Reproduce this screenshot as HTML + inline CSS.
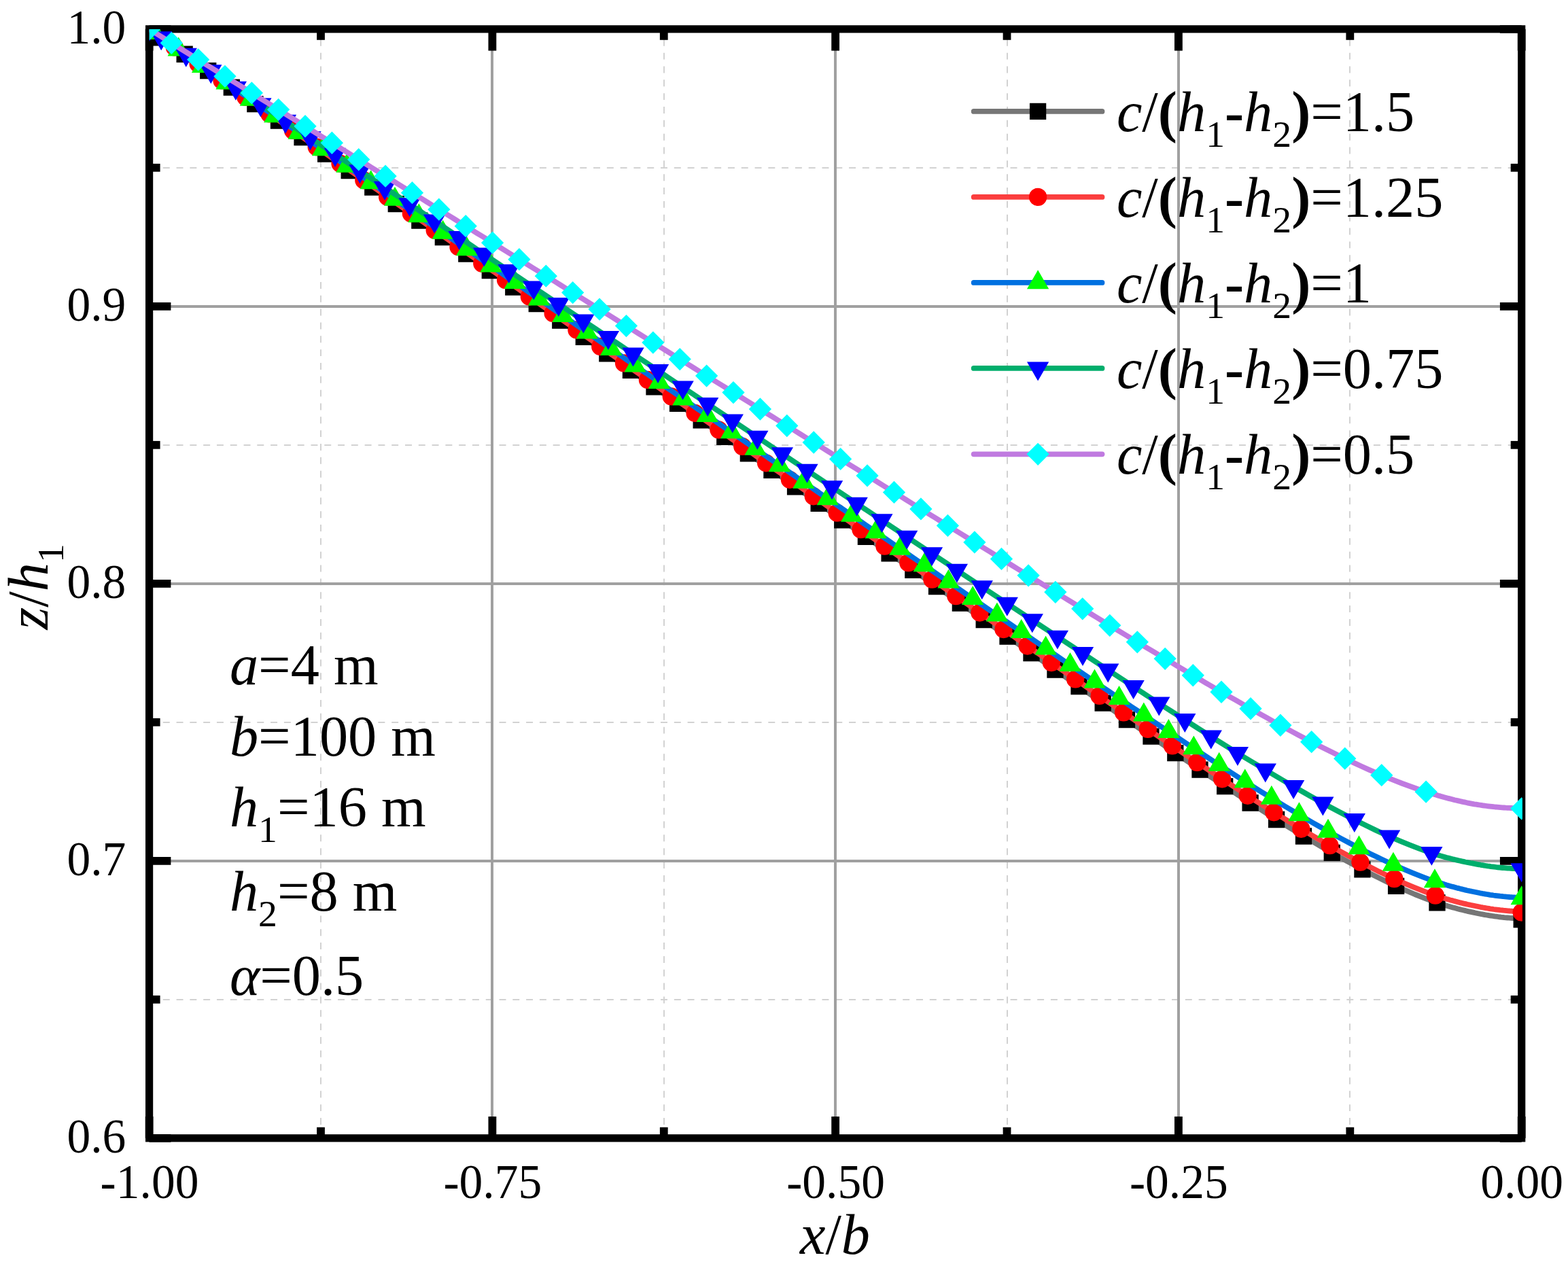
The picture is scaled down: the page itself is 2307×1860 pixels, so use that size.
<!DOCTYPE html>
<html><head><meta charset="utf-8"><title>z/h1 versus x/b</title>
<style>html,body{margin:0;padding:0;background:#fff;}body{width:2307px;height:1860px;overflow:hidden;}svg{display:block;}text{font-family:"Liberation Serif","Times New Roman",serif;fill:#000;}</style>
</head><body>
<svg width="2307" height="1860" viewBox="0 0 2307 1860">
<rect x="0" y="0" width="2307" height="1860" fill="#ffffff"/>
<g stroke="#d2d2d2" stroke-width="2" stroke-dasharray="9.95 9.89" fill="none"><line x1="472.0" y1="1674.80" x2="472.0" y2="42.80"/><line x1="977.0" y1="1674.80" x2="977.0" y2="42.80"/><line x1="1482.0" y1="1674.80" x2="1482.0" y2="42.80"/><line x1="1986.0" y1="1674.80" x2="1986.0" y2="42.80"/></g>
<g stroke="#d2d2d2" stroke-width="2" stroke-dasharray="9.95 9.84" stroke-dashoffset="-0.4" fill="none"><line x1="219.60" y1="1471.0" x2="2238.70" y2="1471.0"/><line x1="219.60" y1="1063.0" x2="2238.70" y2="1063.0"/><line x1="219.60" y1="655.0" x2="2238.70" y2="655.0"/><line x1="219.60" y1="247.0" x2="2238.70" y2="247.0"/></g>
<g stroke="#a0a0a0" stroke-width="4" fill="none"><line x1="724.0" y1="1674.80" x2="724.0" y2="42.80"/><line x1="1229.0" y1="1674.80" x2="1229.0" y2="42.80"/><line x1="1734.0" y1="1674.80" x2="1734.0" y2="42.80"/><line x1="219.60" y1="1267.0" x2="2238.70" y2="1267.0"/><line x1="219.60" y1="859.0" x2="2238.70" y2="859.0"/><line x1="219.60" y1="451.0" x2="2238.70" y2="451.0"/></g>
<rect x="219.60" y="42.80" width="2019.10" height="1632.00" fill="none" stroke="#000" stroke-width="11.20"/>
<g stroke="#000" stroke-width="11.80" fill="none"><line x1="219.60" y1="1674.80" x2="219.60" y2="1643.00"/><line x1="219.60" y1="42.80" x2="219.60" y2="74.60"/><line x1="724.38" y1="1674.80" x2="724.38" y2="1643.00"/><line x1="724.38" y1="42.80" x2="724.38" y2="74.60"/><line x1="1229.15" y1="1674.80" x2="1229.15" y2="1643.00"/><line x1="1229.15" y1="42.80" x2="1229.15" y2="74.60"/><line x1="1733.92" y1="1674.80" x2="1733.92" y2="1643.00"/><line x1="1733.92" y1="42.80" x2="1733.92" y2="74.60"/><line x1="2238.70" y1="1674.80" x2="2238.70" y2="1643.00"/><line x1="2238.70" y1="42.80" x2="2238.70" y2="74.60"/><line x1="471.99" y1="1674.80" x2="471.99" y2="1658.80"/><line x1="471.99" y1="42.80" x2="471.99" y2="58.80"/><line x1="976.76" y1="1674.80" x2="976.76" y2="1658.80"/><line x1="976.76" y1="42.80" x2="976.76" y2="58.80"/><line x1="1481.54" y1="1674.80" x2="1481.54" y2="1658.80"/><line x1="1481.54" y1="42.80" x2="1481.54" y2="58.80"/><line x1="1986.31" y1="1674.80" x2="1986.31" y2="1658.80"/><line x1="1986.31" y1="42.80" x2="1986.31" y2="58.80"/><line x1="219.60" y1="1674.80" x2="251.40" y2="1674.80"/><line x1="2238.70" y1="1674.80" x2="2206.90" y2="1674.80"/><line x1="219.60" y1="1266.80" x2="251.40" y2="1266.80"/><line x1="2238.70" y1="1266.80" x2="2206.90" y2="1266.80"/><line x1="219.60" y1="858.80" x2="251.40" y2="858.80"/><line x1="2238.70" y1="858.80" x2="2206.90" y2="858.80"/><line x1="219.60" y1="450.80" x2="251.40" y2="450.80"/><line x1="2238.70" y1="450.80" x2="2206.90" y2="450.80"/><line x1="219.60" y1="42.80" x2="251.40" y2="42.80"/><line x1="2238.70" y1="42.80" x2="2206.90" y2="42.80"/><line x1="219.60" y1="1470.80" x2="235.60" y2="1470.80"/><line x1="2238.70" y1="1470.80" x2="2222.70" y2="1470.80"/><line x1="219.60" y1="1062.80" x2="235.60" y2="1062.80"/><line x1="2238.70" y1="1062.80" x2="2222.70" y2="1062.80"/><line x1="219.60" y1="654.80" x2="235.60" y2="654.80"/><line x1="2238.70" y1="654.80" x2="2222.70" y2="654.80"/><line x1="219.60" y1="246.80" x2="235.60" y2="246.80"/><line x1="2238.70" y1="246.80" x2="2222.70" y2="246.80"/></g>
<defs><clipPath id="pc"><rect x="219.80" y="43.10" width="2020.10" height="1631.70"/></clipPath></defs>
<g clip-path="url(#pc)">
<polyline points="2238.7,1352.8 2238.4,1352.8 2237.6,1352.6 2236.4,1352.5 2234.8,1352.2 2233.1,1352.0 2231.1,1351.7 2229.1,1351.3 2226.9,1351.2 2224.8,1351.0 2222.5,1350.9 2220.3,1350.7 2218.0,1350.5 2215.6,1350.3 2213.3,1350.1 2211.0,1349.8 2208.6,1349.6 2206.2,1349.3 2203.9,1349.0 2201.5,1348.7 2199.1,1348.4 2196.7,1348.0 2194.3,1347.7 2191.9,1347.3 2189.5,1346.9 2187.1,1346.5 2184.7,1346.1 2182.2,1345.6 2179.8,1345.2 2177.4,1344.7 2174.9,1344.2 2172.5,1343.7 2170.1,1343.2 2167.6,1342.6 2165.1,1342.1 2162.7,1341.6 2160.2,1341.1 2157.7,1340.5 2155.3,1339.9 2152.8,1339.3 2150.3,1338.7 2147.8,1338.1 2145.3,1337.5 2142.8,1336.8 2140.3,1336.1 2137.7,1335.4 2135.2,1334.7 2132.7,1334.0 2130.1,1333.3 2127.6,1332.5 2125.0,1331.7 2122.5,1330.9 2119.9,1330.1 2117.3,1329.3 2114.7,1328.5 2112.1,1327.6 2109.5,1326.7 2106.9,1325.7 2104.3,1324.8 2101.7,1323.8 2099.0,1322.8 2096.4,1321.8 2081.7,1316.0 2068.0,1310.1 2054.9,1304.3 2042.3,1298.4 2030.3,1292.6 2018.6,1286.8 2007.2,1280.9 1996.2,1275.1 1985.4,1269.2 1974.8,1263.4 1964.3,1257.6 1954.1,1251.7 1944.0,1245.9 1934.0,1240.0 1924.2,1234.2 1914.5,1228.4 1904.8,1222.5 1895.3,1216.7 1885.9,1210.8 1876.5,1205.0 1867.2,1199.2 1858.0,1193.3 1848.9,1187.5 1839.8,1181.6 1830.8,1175.8 1821.8,1170.0 1812.9,1164.1 1804.1,1158.3 1795.3,1152.4 1786.5,1146.6 1777.7,1140.8 1769.0,1134.9 1760.3,1129.1 1751.7,1123.2 1743.1,1117.4 1734.5,1111.6 1725.9,1105.7 1717.3,1099.9 1708.8,1094.0 1700.2,1088.2 1691.7,1082.4 1683.2,1076.5 1674.8,1070.7 1666.3,1064.8 1657.8,1059.0 1649.4,1053.2 1641.0,1047.3 1632.6,1041.5 1624.1,1035.6 1615.7,1029.8 1607.4,1024.0 1599.0,1018.1 1590.6,1012.3 1582.2,1006.4 1573.9,1000.6 1565.5,994.7 1557.1,988.9 1548.8,983.1 1540.4,977.2 1532.1,971.4 1523.7,965.5 1515.4,959.7 1507.1,953.9 1498.8,948.0 1490.4,942.2 1482.1,936.3 1473.8,930.5 1465.5,924.7 1457.1,918.8 1448.8,913.0 1440.5,907.1 1432.2,901.3 1423.9,895.5 1415.6,889.6 1407.3,883.8 1399.0,877.9 1390.7,872.1 1382.4,866.3 1374.1,860.4 1365.8,854.6 1357.5,848.7 1349.2,842.9 1341.0,837.1 1332.7,831.2 1324.4,825.4 1316.1,819.5 1307.8,813.7 1299.6,807.9 1291.3,802.0 1283.0,796.2 1274.7,790.3 1266.5,784.5 1258.2,778.7 1249.9,772.8 1241.7,767.0 1233.4,761.1 1225.2,755.3 1216.9,749.5 1208.7,743.6 1200.4,737.8 1192.1,731.9 1183.9,726.1 1175.6,720.3 1167.4,714.4 1159.1,708.6 1150.9,702.7 1142.6,696.9 1134.4,691.1 1126.1,685.2 1117.9,679.4 1109.6,673.5 1101.4,667.7 1093.1,661.9 1084.8,656.0 1076.6,650.2 1068.3,644.3 1060.1,638.5 1051.8,632.7 1043.6,626.8 1035.3,621.0 1027.1,615.1 1018.8,609.3 1010.6,603.5 1002.3,597.6 994.1,591.8 985.9,585.9 977.6,580.1 969.4,574.3 961.1,568.4 952.9,562.6 944.6,556.7 936.4,550.9 928.1,545.1 919.9,539.2 911.6,533.4 903.4,527.5 895.1,521.7 886.9,515.9 878.6,510.0 870.4,504.2 862.2,498.3 853.9,492.5 845.7,486.7 837.4,480.8 829.2,475.0 821.0,469.1 812.7,463.3 804.5,457.5 796.3,451.6 788.0,445.8 779.8,439.9 771.6,434.1 763.4,428.3 755.1,422.4 746.9,416.6 738.7,410.7 730.5,404.9 722.2,399.1 714.0,393.2 705.8,387.4 697.6,381.5 689.3,375.7 681.1,369.9 672.9,364.0 664.7,358.2 656.4,352.3 648.2,346.5 640.0,340.6 631.8,334.8 623.5,329.0 615.3,323.1 607.1,317.3 598.8,311.4 590.6,305.6 582.4,299.8 574.1,293.9 565.9,288.1 557.6,282.2 549.4,276.4 541.2,270.6 532.9,264.7 524.7,258.9 516.4,253.0 508.2,247.2 499.9,241.4 491.7,235.5 483.4,229.7 475.2,223.8 466.9,218.0 458.7,212.2 450.4,206.3 442.2,200.5 433.9,194.6 425.7,188.8 417.4,183.0 409.2,177.1 400.9,171.3 392.7,165.4 384.4,159.6 376.2,153.8 367.9,147.9 359.7,142.1 351.5,136.2 343.2,130.4 335.0,124.6 326.7,118.7 318.5,112.9 310.2,107.0 302.0,101.2 293.7,95.4 285.5,89.5 277.2,83.7 269.0,77.8 260.7,72.0 252.5,66.2 244.2,60.3 236.0,54.5 227.8,48.6 219.6,42.8" fill="none" stroke="#767676" stroke-width="7.8" stroke-linejoin="round" stroke-linecap="butt"/>
<path d="M2226.55 1340.85h24.30v24.30h-24.30zM2102.34 1316.27h24.30v24.30h-24.30zM2041.95 1291.78h24.30v24.30h-24.30zM1992.29 1267.30h24.30v24.30h-24.30zM1947.62 1242.81h24.30v24.30h-24.30zM1905.84 1218.33h24.30v24.30h-24.30zM1865.96 1193.85h24.30v24.30h-24.30zM1827.46 1169.36h24.30v24.30h-24.30zM1790.03 1144.88h24.30v24.30h-24.30zM1753.35 1120.39h24.30v24.30h-24.30zM1717.17 1095.91h24.30v24.30h-24.30zM1681.36 1071.43h24.30v24.30h-24.30zM1645.83 1046.94h24.30v24.30h-24.30zM1610.52 1022.46h24.30v24.30h-24.30zM1575.36 997.97h24.30v24.30h-24.30zM1540.31 973.49h24.30v24.30h-24.30zM1505.33 949.01h24.30v24.30h-24.30zM1470.41 924.52h24.30v24.30h-24.30zM1435.54 900.04h24.30v24.30h-24.30zM1400.72 875.55h24.30v24.30h-24.30zM1365.93 851.07h24.30v24.30h-24.30zM1331.18 826.59h24.30v24.30h-24.30zM1296.46 802.10h24.30v24.30h-24.30zM1261.78 777.62h24.30v24.30h-24.30zM1227.13 753.13h24.30v24.30h-24.30zM1192.51 728.65h24.30v24.30h-24.30zM1157.90 704.17h24.30v24.30h-24.30zM1123.30 679.68h24.30v24.30h-24.30zM1088.70 655.20h24.30v24.30h-24.30zM1054.11 630.71h24.30v24.30h-24.30zM1019.53 606.23h24.30v24.30h-24.30zM984.94 581.75h24.30v24.30h-24.30zM950.36 557.26h24.30v24.30h-24.30zM915.79 532.78h24.30v24.30h-24.30zM881.21 508.29h24.30v24.30h-24.30zM846.65 483.81h24.30v24.30h-24.30zM812.12 459.33h24.30v24.30h-24.30zM777.61 434.84h24.30v24.30h-24.30zM743.12 410.36h24.30v24.30h-24.30zM708.64 385.87h24.30v24.30h-24.30zM674.16 361.39h24.30v24.30h-24.30zM639.68 336.91h24.30v24.30h-24.30zM605.18 312.42h24.30v24.30h-24.30zM570.66 287.94h24.30v24.30h-24.30zM536.12 263.45h24.30v24.30h-24.30zM501.55 238.97h24.30v24.30h-24.30zM466.97 214.49h24.30v24.30h-24.30zM432.39 190.00h24.30v24.30h-24.30zM397.81 165.52h24.30v24.30h-24.30zM363.23 141.03h24.30v24.30h-24.30zM328.65 116.55h24.30v24.30h-24.30zM294.07 92.07h24.30v24.30h-24.30zM259.50 67.58h24.30v24.30h-24.30zM224.94 43.10h24.30v24.30h-24.30zM207.45 30.65h24.30v24.30h-24.30z" fill="#000000"/>
<polyline points="2238.7,1342.4 2238.4,1342.4 2237.4,1342.2 2236.0,1342.0 2234.2,1341.8 2232.3,1341.5 2230.2,1341.2 2228.1,1340.9 2225.8,1340.8 2223.6,1340.6 2221.3,1340.5 2219.0,1340.3 2216.7,1340.1 2214.3,1339.9 2212.0,1339.7 2209.6,1339.4 2207.2,1339.2 2204.8,1338.9 2202.5,1338.6 2200.1,1338.3 2197.7,1338.0 2195.3,1337.6 2192.9,1337.3 2190.5,1336.9 2188.1,1336.5 2185.6,1336.1 2183.2,1335.7 2180.8,1335.2 2178.4,1334.8 2175.9,1334.3 2173.5,1333.8 2171.0,1333.3 2168.6,1332.8 2166.1,1332.3 2163.7,1331.8 2161.2,1331.2 2158.8,1330.7 2156.3,1330.1 2153.8,1329.6 2151.3,1329.0 2148.8,1328.4 2146.3,1327.7 2143.8,1327.1 2141.3,1326.4 2138.8,1325.8 2136.3,1325.1 2133.7,1324.4 2131.2,1323.6 2128.6,1322.9 2126.1,1322.1 2123.5,1321.4 2120.9,1320.6 2118.4,1319.8 2115.8,1319.0 2113.2,1318.1 2110.6,1317.2 2108.0,1316.3 2105.3,1315.3 2102.7,1314.4 2100.1,1313.4 2097.4,1312.4 2094.8,1311.4 2080.2,1305.6 2066.4,1299.8 2053.3,1294.0 2040.8,1288.2 2028.7,1282.4 2017.0,1276.6 2005.6,1270.9 1994.6,1265.1 1983.7,1259.3 1973.1,1253.5 1962.7,1247.7 1952.4,1241.9 1942.3,1236.1 1932.3,1230.3 1922.4,1224.5 1912.7,1218.7 1903.1,1212.9 1893.5,1207.1 1884.1,1201.3 1874.7,1195.5 1865.5,1189.8 1856.3,1184.0 1847.2,1178.2 1838.2,1172.4 1829.2,1166.6 1820.3,1160.8 1811.4,1155.0 1802.5,1149.2 1793.7,1143.4 1785.0,1137.6 1776.2,1131.8 1767.5,1126.0 1758.9,1120.2 1750.2,1114.4 1741.6,1108.7 1733.0,1102.9 1724.4,1097.1 1715.9,1091.3 1707.3,1085.5 1698.8,1079.7 1690.3,1073.9 1681.8,1068.1 1673.4,1062.3 1664.9,1056.5 1656.5,1050.7 1648.0,1044.9 1639.6,1039.1 1631.2,1033.4 1622.8,1027.6 1614.4,1021.8 1606.0,1016.0 1597.6,1010.2 1589.3,1004.4 1580.9,998.6 1572.5,992.8 1564.2,987.0 1555.8,981.2 1547.5,975.4 1539.2,969.6 1530.8,963.8 1522.5,958.0 1514.2,952.3 1505.8,946.5 1497.5,940.7 1489.2,934.9 1480.9,929.1 1472.6,923.3 1464.3,917.5 1455.9,911.7 1447.6,905.9 1439.3,900.1 1431.0,894.3 1422.7,888.5 1414.4,882.7 1406.2,876.9 1397.9,871.2 1389.6,865.4 1381.3,859.6 1373.0,853.8 1364.7,848.0 1356.4,842.2 1348.2,836.4 1339.9,830.6 1331.6,824.8 1323.3,819.0 1315.1,813.2 1306.8,807.4 1298.5,801.6 1290.3,795.9 1282.0,790.1 1273.7,784.3 1265.5,778.5 1257.2,772.7 1249.0,766.9 1240.7,761.1 1232.5,755.3 1224.2,749.5 1216.0,743.7 1207.7,737.9 1199.5,732.1 1191.2,726.3 1183.0,720.5 1174.7,714.8 1166.5,709.0 1158.2,703.2 1150.0,697.4 1141.7,691.6 1133.5,685.8 1125.2,680.0 1117.0,674.2 1108.7,668.4 1100.5,662.6 1092.2,656.8 1084.0,651.0 1075.8,645.2 1067.5,639.4 1059.3,633.7 1051.0,627.9 1042.8,622.1 1034.5,616.3 1026.3,610.5 1018.0,604.7 1009.8,598.9 1001.6,593.1 993.3,587.3 985.1,581.5 976.8,575.7 968.6,569.9 960.3,564.1 952.1,558.3 943.9,552.6 935.6,546.8 927.4,541.0 919.1,535.2 910.9,529.4 902.6,523.6 894.4,517.8 886.1,512.0 877.9,506.2 869.7,500.4 861.4,494.6 853.2,488.8 844.9,483.0 836.7,477.3 828.5,471.5 820.2,465.7 812.0,459.9 803.7,454.1 795.5,448.3 787.3,442.5 779.0,436.7 770.8,430.9 762.6,425.1 754.3,419.3 746.1,413.5 737.8,407.7 729.6,401.9 721.4,396.2 713.1,390.4 704.9,384.6 696.7,378.8 688.4,373.0 680.2,367.2 672.0,361.4 663.7,355.6 655.5,349.8 647.3,344.0 639.0,338.2 630.8,332.4 622.6,326.6 614.3,320.8 606.1,315.1 597.9,309.3 589.6,303.5 581.4,297.7 573.2,291.9 564.9,286.1 556.7,280.3 548.5,274.5 540.2,268.7 532.0,262.9 523.8,257.1 515.5,251.3 507.3,245.5 499.1,239.8 490.8,234.0 482.6,228.2 474.4,222.4 466.1,216.6 457.9,210.8 449.6,205.0 441.4,199.2 433.2,193.4 424.9,187.6 416.7,181.8 408.5,176.0 400.2,170.2 392.0,164.4 383.7,158.7 375.5,152.9 367.3,147.1 359.0,141.3 350.8,135.5 342.5,129.7 334.3,123.9 326.1,118.1 317.8,112.3 309.6,106.5 301.3,100.7 293.1,94.9 284.8,89.1 276.6,83.3 268.4,77.6 260.1,71.8 251.9,66.0 243.6,60.2 235.4,54.4 227.5,48.6 219.6,42.8" fill="none" stroke="#fb3e3e" stroke-width="7.8" stroke-linejoin="round" stroke-linecap="butt"/>
<path d="M2225.55 1342.50a13.15 13.15 0 1 0 26.30 0a13.15 13.15 0 1 0 -26.30 0zM2098.67 1317.63a13.15 13.15 0 1 0 26.30 0a13.15 13.15 0 1 0 -26.30 0zM2038.23 1293.15a13.15 13.15 0 1 0 26.30 0a13.15 13.15 0 1 0 -26.30 0zM1988.30 1268.68a13.15 13.15 0 1 0 26.30 0a13.15 13.15 0 1 0 -26.30 0zM1943.33 1244.20a13.15 13.15 0 1 0 26.30 0a13.15 13.15 0 1 0 -26.30 0zM1901.23 1219.73a13.15 13.15 0 1 0 26.30 0a13.15 13.15 0 1 0 -26.30 0zM1861.13 1195.26a13.15 13.15 0 1 0 26.30 0a13.15 13.15 0 1 0 -26.30 0zM1822.53 1170.78a13.15 13.15 0 1 0 26.30 0a13.15 13.15 0 1 0 -26.30 0zM1784.99 1146.31a13.15 13.15 0 1 0 26.30 0a13.15 13.15 0 1 0 -26.30 0zM1748.10 1121.83a13.15 13.15 0 1 0 26.30 0a13.15 13.15 0 1 0 -26.30 0zM1711.71 1097.36a13.15 13.15 0 1 0 26.30 0a13.15 13.15 0 1 0 -26.30 0zM1675.69 1072.89a13.15 13.15 0 1 0 26.30 0a13.15 13.15 0 1 0 -26.30 0zM1639.95 1048.41a13.15 13.15 0 1 0 26.30 0a13.15 13.15 0 1 0 -26.30 0zM1604.41 1023.94a13.15 13.15 0 1 0 26.30 0a13.15 13.15 0 1 0 -26.30 0zM1569.01 999.46a13.15 13.15 0 1 0 26.30 0a13.15 13.15 0 1 0 -26.30 0zM1533.72 974.99a13.15 13.15 0 1 0 26.30 0a13.15 13.15 0 1 0 -26.30 0zM1498.51 950.52a13.15 13.15 0 1 0 26.30 0a13.15 13.15 0 1 0 -26.30 0zM1463.36 926.04a13.15 13.15 0 1 0 26.30 0a13.15 13.15 0 1 0 -26.30 0zM1428.27 901.57a13.15 13.15 0 1 0 26.30 0a13.15 13.15 0 1 0 -26.30 0zM1393.21 877.09a13.15 13.15 0 1 0 26.30 0a13.15 13.15 0 1 0 -26.30 0zM1358.20 852.62a13.15 13.15 0 1 0 26.30 0a13.15 13.15 0 1 0 -26.30 0zM1323.22 828.15a13.15 13.15 0 1 0 26.30 0a13.15 13.15 0 1 0 -26.30 0zM1288.28 803.67a13.15 13.15 0 1 0 26.30 0a13.15 13.15 0 1 0 -26.30 0zM1253.37 779.20a13.15 13.15 0 1 0 26.30 0a13.15 13.15 0 1 0 -26.30 0zM1218.49 754.72a13.15 13.15 0 1 0 26.30 0a13.15 13.15 0 1 0 -26.30 0zM1183.63 730.25a13.15 13.15 0 1 0 26.30 0a13.15 13.15 0 1 0 -26.30 0zM1148.78 705.78a13.15 13.15 0 1 0 26.30 0a13.15 13.15 0 1 0 -26.30 0zM1113.94 681.30a13.15 13.15 0 1 0 26.30 0a13.15 13.15 0 1 0 -26.30 0zM1079.10 656.83a13.15 13.15 0 1 0 26.30 0a13.15 13.15 0 1 0 -26.30 0zM1044.27 632.35a13.15 13.15 0 1 0 26.30 0a13.15 13.15 0 1 0 -26.30 0zM1009.43 607.88a13.15 13.15 0 1 0 26.30 0a13.15 13.15 0 1 0 -26.30 0zM974.60 583.41a13.15 13.15 0 1 0 26.30 0a13.15 13.15 0 1 0 -26.30 0zM939.77 558.93a13.15 13.15 0 1 0 26.30 0a13.15 13.15 0 1 0 -26.30 0zM904.94 534.46a13.15 13.15 0 1 0 26.30 0a13.15 13.15 0 1 0 -26.30 0zM870.12 509.98a13.15 13.15 0 1 0 26.30 0a13.15 13.15 0 1 0 -26.30 0zM835.30 485.51a13.15 13.15 0 1 0 26.30 0a13.15 13.15 0 1 0 -26.30 0zM800.48 461.04a13.15 13.15 0 1 0 26.30 0a13.15 13.15 0 1 0 -26.30 0zM765.68 436.56a13.15 13.15 0 1 0 26.30 0a13.15 13.15 0 1 0 -26.30 0zM730.88 412.09a13.15 13.15 0 1 0 26.30 0a13.15 13.15 0 1 0 -26.30 0zM696.09 387.61a13.15 13.15 0 1 0 26.30 0a13.15 13.15 0 1 0 -26.30 0zM661.30 363.14a13.15 13.15 0 1 0 26.30 0a13.15 13.15 0 1 0 -26.30 0zM626.51 338.67a13.15 13.15 0 1 0 26.30 0a13.15 13.15 0 1 0 -26.30 0zM591.72 314.19a13.15 13.15 0 1 0 26.30 0a13.15 13.15 0 1 0 -26.30 0zM556.94 289.72a13.15 13.15 0 1 0 26.30 0a13.15 13.15 0 1 0 -26.30 0zM522.15 265.24a13.15 13.15 0 1 0 26.30 0a13.15 13.15 0 1 0 -26.30 0zM487.36 240.77a13.15 13.15 0 1 0 26.30 0a13.15 13.15 0 1 0 -26.30 0zM452.56 216.30a13.15 13.15 0 1 0 26.30 0a13.15 13.15 0 1 0 -26.30 0zM417.76 191.82a13.15 13.15 0 1 0 26.30 0a13.15 13.15 0 1 0 -26.30 0zM382.96 167.35a13.15 13.15 0 1 0 26.30 0a13.15 13.15 0 1 0 -26.30 0zM348.14 142.87a13.15 13.15 0 1 0 26.30 0a13.15 13.15 0 1 0 -26.30 0zM313.32 118.40a13.15 13.15 0 1 0 26.30 0a13.15 13.15 0 1 0 -26.30 0zM278.50 93.93a13.15 13.15 0 1 0 26.30 0a13.15 13.15 0 1 0 -26.30 0zM243.67 69.45a13.15 13.15 0 1 0 26.30 0a13.15 13.15 0 1 0 -26.30 0zM209.41 44.98a13.15 13.15 0 1 0 26.30 0a13.15 13.15 0 1 0 -26.30 0zM206.45 42.80a13.15 13.15 0 1 0 26.30 0a13.15 13.15 0 1 0 -26.30 0z" fill="#ff0000"/>
<polyline points="2238.7,1321.6 2238.3,1321.6 2237.4,1321.5 2235.9,1321.3 2234.1,1321.1 2232.2,1320.9 2230.1,1320.6 2227.9,1320.4 2225.7,1320.3 2223.4,1320.1 2221.1,1320.0 2218.8,1319.8 2216.4,1319.6 2214.1,1319.4 2211.7,1319.2 2209.3,1318.9 2207.0,1318.7 2204.6,1318.4 2202.2,1318.1 2199.8,1317.8 2197.4,1317.5 2195.0,1317.1 2192.5,1316.8 2190.1,1316.4 2187.7,1316.0 2185.3,1315.6 2182.8,1315.2 2180.4,1314.7 2178.0,1314.3 2175.5,1313.8 2173.1,1313.3 2170.6,1312.8 2168.2,1312.3 2165.7,1311.8 2163.2,1311.2 2160.7,1310.7 2158.3,1310.2 2155.8,1309.6 2153.3,1309.0 2150.8,1308.4 2148.3,1307.8 2145.7,1307.1 2143.2,1306.5 2140.7,1305.8 2138.2,1305.1 2135.6,1304.4 2133.1,1303.7 2130.5,1302.9 2127.9,1302.2 2125.4,1301.4 2122.8,1300.6 2120.2,1299.8 2117.6,1299.0 2115.0,1298.2 2112.3,1297.3 2109.7,1296.4 2107.1,1295.5 2104.4,1294.5 2101.8,1293.6 2099.1,1292.6 2096.4,1291.6 2093.8,1290.6 2079.2,1284.9 2065.5,1279.2 2052.5,1273.5 2040.0,1267.8 2028.0,1262.1 2016.3,1256.4 2005.0,1250.7 1994.0,1245.0 1983.2,1239.3 1972.6,1233.6 1962.2,1227.9 1951.9,1222.2 1941.8,1216.5 1931.8,1210.8 1922.0,1205.1 1912.3,1199.4 1902.7,1193.7 1893.2,1188.0 1883.7,1182.3 1874.4,1176.6 1865.2,1170.9 1856.0,1165.3 1846.9,1159.6 1837.9,1153.9 1828.9,1148.2 1820.0,1142.5 1811.1,1136.8 1802.3,1131.1 1793.5,1125.4 1784.7,1119.7 1776.0,1114.0 1767.3,1108.3 1758.6,1102.6 1750.0,1096.9 1741.4,1091.2 1732.8,1085.5 1724.2,1079.8 1715.7,1074.1 1707.2,1068.4 1698.6,1062.7 1690.1,1057.0 1681.7,1051.3 1673.2,1045.6 1664.7,1039.9 1656.3,1034.2 1647.9,1028.5 1639.5,1022.8 1631.1,1017.1 1622.7,1011.4 1614.3,1005.7 1605.9,1000.0 1597.5,994.3 1589.1,988.6 1580.7,982.9 1572.4,977.2 1564.0,971.5 1555.7,965.8 1547.3,960.1 1538.9,954.4 1530.6,948.7 1522.2,943.0 1513.9,937.3 1505.6,931.6 1497.2,925.9 1488.9,920.2 1480.6,914.6 1472.2,908.9 1463.9,903.2 1455.6,897.5 1447.3,891.8 1438.9,886.1 1430.6,880.4 1422.3,874.7 1414.0,869.0 1405.7,863.3 1397.4,857.6 1389.1,851.9 1380.8,846.2 1372.5,840.5 1364.2,834.8 1355.9,829.1 1347.6,823.4 1339.3,817.7 1331.0,812.0 1322.7,806.3 1314.4,800.6 1306.2,794.9 1297.9,789.2 1289.6,783.5 1281.3,777.8 1273.1,772.1 1264.8,766.4 1256.6,760.7 1248.3,755.0 1240.1,749.3 1231.8,743.6 1223.6,737.9 1215.3,732.2 1207.1,726.5 1198.8,720.8 1190.6,715.1 1182.3,709.4 1174.1,703.7 1165.8,698.0 1157.6,692.3 1149.4,686.6 1141.1,680.9 1132.9,675.2 1124.6,669.5 1116.4,663.9 1108.1,658.2 1099.9,652.5 1091.7,646.8 1083.4,641.1 1075.2,635.4 1066.9,629.7 1058.7,624.0 1050.4,618.3 1042.2,612.6 1034.0,606.9 1025.7,601.2 1017.5,595.5 1009.2,589.8 1001.0,584.1 992.8,578.4 984.5,572.7 976.3,567.0 968.0,561.3 959.8,555.6 951.6,549.9 943.3,544.2 935.1,538.5 926.8,532.8 918.6,527.1 910.4,521.4 902.1,515.7 893.9,510.0 885.6,504.3 877.4,498.6 869.2,492.9 860.9,487.2 852.7,481.5 844.5,475.8 836.2,470.1 828.0,464.4 819.8,458.7 811.5,453.0 803.3,447.3 795.1,441.6 786.8,435.9 778.6,430.2 770.4,424.5 762.1,418.8 753.9,413.2 745.7,407.5 737.5,401.8 729.2,396.1 721.0,390.4 712.8,384.7 704.5,379.0 696.3,373.3 688.1,367.6 679.9,361.9 671.6,356.2 663.4,350.5 655.2,344.8 647.0,339.1 638.7,333.4 630.5,327.7 622.3,322.0 614.1,316.3 605.8,310.6 597.6,304.9 589.4,299.2 581.2,293.5 572.9,287.8 564.7,282.1 556.5,276.4 548.3,270.7 540.0,265.0 531.8,259.3 523.6,253.6 515.3,247.9 507.1,242.2 498.9,236.5 490.7,230.8 482.4,225.1 474.2,219.4 466.0,213.7 457.7,208.0 449.5,202.3 441.3,196.6 433.1,190.9 424.8,185.2 416.6,179.5 408.4,173.8 400.1,168.1 391.9,162.5 383.7,156.8 375.4,151.1 367.2,145.4 359.0,139.7 350.7,134.0 342.5,128.3 334.2,122.6 326.0,116.9 317.8,111.2 309.5,105.5 301.3,99.8 293.0,94.1 284.8,88.4 276.6,82.7 268.3,77.0 260.1,71.3 251.9,65.6 243.6,59.9 235.4,54.2 227.4,48.5 219.6,42.8" fill="none" stroke="#0070e0" stroke-width="7.8" stroke-linejoin="round" stroke-linecap="butt"/>
<path d="M2238.70 1303.30L2254.85 1331.27L2222.55 1331.27zM2110.96 1278.18L2127.11 1306.15L2094.81 1306.15zM2049.93 1253.70L2066.08 1281.68L2033.78 1281.68zM1999.48 1229.23L2015.63 1257.20L1983.33 1257.20zM1954.01 1204.76L1970.16 1232.73L1937.86 1232.73zM1911.43 1180.28L1927.58 1208.25L1895.28 1208.25zM1870.85 1155.81L1887.00 1183.78L1854.70 1183.78zM1831.77 1131.33L1847.92 1159.31L1815.62 1159.31zM1793.71 1106.86L1809.86 1134.83L1777.56 1134.83zM1756.31 1082.39L1772.46 1110.36L1740.16 1110.36zM1719.39 1057.91L1735.54 1085.88L1703.24 1085.88zM1682.84 1033.44L1698.99 1061.41L1666.69 1061.41zM1646.56 1008.96L1662.71 1036.94L1630.41 1036.94zM1610.47 984.49L1626.62 1012.46L1594.32 1012.46zM1574.49 960.02L1590.64 987.99L1558.34 987.99zM1538.59 935.54L1554.74 963.51L1522.44 963.51zM1502.74 911.07L1518.89 939.04L1486.59 939.04zM1466.95 886.59L1483.10 914.57L1450.80 914.57zM1431.21 862.12L1447.36 890.09L1415.06 890.09zM1395.51 837.65L1411.66 865.62L1379.36 865.62zM1359.85 813.17L1376.00 841.14L1343.70 841.14zM1324.25 788.70L1340.40 816.67L1308.10 816.67zM1288.70 764.22L1304.85 792.20L1272.55 792.20zM1253.20 739.75L1269.35 767.72L1237.05 767.72zM1217.77 715.28L1233.92 743.25L1201.62 743.25zM1182.35 690.80L1198.50 718.77L1166.20 718.77zM1146.94 666.33L1163.09 694.30L1130.79 694.30zM1111.54 641.85L1127.69 669.83L1095.39 669.83zM1076.13 617.38L1092.28 645.35L1059.98 645.35zM1040.73 592.91L1056.88 620.88L1024.58 620.88zM1005.34 568.43L1021.49 596.40L989.19 596.40zM969.94 543.96L986.09 571.93L953.79 571.93zM934.55 519.48L950.70 547.46L918.40 547.46zM899.16 495.01L915.31 522.98L883.01 522.98zM863.77 470.54L879.92 498.51L847.62 498.51zM828.39 446.06L844.54 474.03L812.24 474.03zM793.03 421.59L809.18 449.56L776.88 449.56zM757.68 397.11L773.83 425.09L741.53 425.09zM722.33 372.64L738.48 400.61L706.18 400.61zM687.00 348.17L703.15 376.14L670.85 376.14zM651.66 323.69L667.81 351.66L635.51 351.66zM616.33 299.22L632.48 327.19L600.18 327.19zM581.00 274.74L597.15 302.72L564.85 302.72zM545.67 250.27L561.82 278.24L529.52 278.24zM510.33 225.80L526.48 253.77L494.18 253.77zM474.99 201.32L491.14 229.29L458.84 229.29zM439.64 176.85L455.79 204.82L423.49 204.82zM404.28 152.37L420.43 180.35L388.13 180.35zM368.91 127.90L385.06 155.87L352.76 155.87zM333.53 103.43L349.68 131.40L317.38 131.40zM298.14 78.95L314.29 106.92L281.99 106.92zM262.75 54.48L278.90 82.45L246.60 82.45zM227.66 30.00L243.81 57.98L211.51 57.98zM219.60 24.15L235.75 52.12L203.45 52.12z" fill="#00ff00"/>
<polyline points="2238.7,1279.6 2238.1,1279.5 2236.6,1279.3 2234.7,1279.0 2232.5,1278.7 2230.2,1278.4 2227.9,1278.1 2225.5,1278.0 2223.1,1277.9 2220.6,1277.7 2218.2,1277.6 2215.7,1277.4 2213.3,1277.2 2210.8,1277.0 2208.4,1276.8 2205.9,1276.5 2203.4,1276.3 2201.0,1276.0 2198.5,1275.7 2196.0,1275.4 2193.5,1275.1 2191.1,1274.7 2188.6,1274.4 2186.1,1274.0 2183.6,1273.6 2181.1,1273.2 2178.6,1272.8 2176.1,1272.3 2173.6,1271.9 2171.1,1271.4 2168.6,1270.9 2166.1,1270.4 2163.6,1270.0 2161.0,1269.5 2158.5,1269.0 2156.0,1268.5 2153.4,1267.9 2150.9,1267.4 2148.3,1266.8 2145.8,1266.2 2143.2,1265.6 2140.6,1265.0 2138.1,1264.4 2135.5,1263.7 2132.9,1263.0 2130.3,1262.4 2127.7,1261.7 2125.1,1260.9 2122.5,1260.2 2119.8,1259.5 2117.2,1258.7 2114.6,1257.9 2111.9,1257.1 2109.3,1256.2 2106.6,1255.3 2103.9,1254.4 2101.2,1253.5 2098.6,1252.5 2095.9,1251.6 2093.2,1250.6 2090.4,1249.6 2087.7,1248.6 2073.5,1243.1 2060.0,1237.6 2047.2,1232.1 2034.9,1226.6 2023.0,1221.1 2011.5,1215.6 2000.3,1210.1 1989.4,1204.6 1978.7,1199.0 1968.2,1193.5 1957.8,1188.0 1947.7,1182.5 1937.8,1177.0 1927.9,1171.5 1918.3,1166.0 1908.7,1160.5 1899.2,1155.0 1889.8,1149.5 1880.5,1144.0 1871.2,1138.5 1862.1,1133.0 1852.9,1127.5 1843.6,1122.0 1834.4,1116.5 1825.2,1111.0 1816.2,1105.4 1807.4,1099.9 1798.6,1094.4 1789.8,1088.9 1781.1,1083.4 1772.4,1077.9 1763.7,1072.4 1755.1,1066.9 1746.4,1061.4 1737.9,1055.9 1729.3,1050.4 1720.7,1044.9 1712.2,1039.4 1703.7,1033.9 1695.2,1028.4 1686.7,1022.9 1678.3,1017.4 1669.8,1011.8 1661.4,1006.3 1653.0,1000.8 1644.6,995.3 1636.2,989.8 1627.8,984.3 1619.4,978.8 1611.0,973.3 1602.7,967.8 1594.3,962.3 1585.9,956.8 1577.6,951.3 1569.2,945.8 1560.9,940.3 1552.5,934.8 1544.2,929.3 1535.8,923.7 1527.5,918.2 1519.2,912.7 1510.8,907.2 1502.5,901.7 1494.2,896.2 1485.9,890.7 1477.5,885.2 1469.2,879.7 1460.9,874.2 1452.6,868.7 1444.3,863.2 1436.0,857.7 1427.7,852.2 1419.4,846.7 1411.1,841.2 1402.8,835.7 1394.5,830.1 1386.2,824.6 1377.9,819.1 1369.6,813.6 1361.3,808.1 1353.0,802.6 1344.7,797.1 1336.4,791.6 1328.2,786.1 1319.9,780.6 1311.6,775.1 1303.4,769.6 1295.1,764.1 1286.8,758.6 1278.6,753.1 1270.3,747.6 1262.1,742.1 1253.8,736.5 1245.6,731.0 1237.4,725.5 1229.1,720.0 1220.9,714.5 1212.7,709.0 1204.5,703.5 1196.2,698.0 1188.0,692.5 1179.8,687.0 1171.5,681.5 1163.3,676.0 1155.1,670.5 1146.9,665.0 1138.6,659.5 1130.4,654.0 1122.2,648.5 1114.0,642.9 1105.7,637.4 1097.5,631.9 1089.3,626.4 1081.1,620.9 1072.8,615.4 1064.6,609.9 1056.4,604.4 1048.2,598.9 1039.9,593.4 1031.7,587.9 1023.5,582.4 1015.3,576.9 1007.0,571.4 998.8,565.9 990.6,560.4 982.4,554.9 974.1,549.3 965.9,543.8 957.7,538.3 949.5,532.8 941.2,527.3 933.0,521.8 924.8,516.3 916.6,510.8 908.4,505.3 900.1,499.8 891.9,494.3 883.7,488.8 875.5,483.3 867.2,477.8 859.0,472.3 850.8,466.8 842.6,461.3 834.4,455.7 826.1,450.2 817.9,444.7 809.7,439.2 801.5,433.7 793.3,428.2 785.0,422.7 776.8,417.2 768.6,411.7 760.4,406.2 752.2,400.7 744.0,395.2 735.7,389.7 727.5,384.2 719.3,378.7 711.1,373.2 702.9,367.7 694.6,362.1 686.4,356.6 678.2,351.1 670.0,345.6 661.8,340.1 653.6,334.6 645.4,329.1 637.1,323.6 628.9,318.1 620.7,312.6 612.5,307.1 604.3,301.6 596.1,296.1 587.8,290.6 579.6,285.1 571.4,279.6 563.2,274.0 555.0,268.5 546.8,263.0 538.5,257.5 530.3,252.0 522.1,246.5 513.9,241.0 505.7,235.5 497.5,230.0 489.2,224.5 481.0,219.0 472.8,213.5 464.6,208.0 456.4,202.5 448.2,197.0 439.9,191.5 431.7,186.0 423.5,180.4 415.3,174.9 407.1,169.4 398.9,163.9 390.6,158.4 382.4,152.9 374.2,147.4 366.0,141.9 357.8,136.4 349.5,130.9 341.3,125.4 333.1,119.9 324.9,114.4 316.7,108.9 308.4,103.4 300.2,97.9 292.0,92.4 283.8,86.8 275.6,81.3 267.3,75.8 259.1,70.3 250.9,64.8 242.7,59.3 234.5,53.8 226.9,48.3 219.6,42.8" fill="none" stroke="#00ae6c" stroke-width="7.8" stroke-linejoin="round" stroke-linecap="butt"/>
<path d="M2238.70 1298.25L2254.85 1270.28L2222.55 1270.28zM2106.36 1273.87L2122.51 1245.89L2090.21 1245.89zM2044.12 1249.39L2060.27 1221.41L2027.97 1221.41zM1992.80 1224.91L2008.95 1196.93L1976.65 1196.93zM1946.35 1200.42L1962.50 1172.45L1930.20 1172.45zM1903.12 1175.94L1919.27 1147.97L1886.97 1147.97zM1861.79 1151.46L1877.94 1123.49L1845.64 1123.49zM1820.91 1126.98L1837.06 1099.01L1804.76 1099.01zM1781.77 1102.50L1797.92 1074.53L1765.62 1074.53zM1743.28 1078.02L1759.43 1050.05L1727.13 1050.05zM1705.27 1053.54L1721.42 1025.57L1689.12 1025.57zM1667.62 1029.06L1683.77 1001.08L1651.47 1001.08zM1630.23 1004.58L1646.38 976.60L1614.08 976.60zM1593.01 980.10L1609.16 952.12L1576.86 952.12zM1555.87 955.61L1572.02 927.64L1539.72 927.64zM1518.79 931.13L1534.94 903.16L1502.64 903.16zM1481.77 906.65L1497.92 878.68L1465.62 878.68zM1444.79 882.17L1460.94 854.20L1428.64 854.20zM1407.86 857.69L1424.01 829.72L1391.71 829.72zM1370.98 833.21L1387.13 805.24L1354.83 805.24zM1334.15 808.73L1350.30 780.76L1318.00 780.76zM1297.38 784.25L1313.53 756.27L1281.23 756.27zM1260.69 759.77L1276.84 731.79L1244.54 731.79zM1224.07 735.29L1240.22 707.31L1207.92 707.31zM1187.48 710.80L1203.63 682.83L1171.33 682.83zM1150.90 686.32L1167.05 658.35L1134.75 658.35zM1114.32 661.84L1130.47 633.87L1098.17 633.87zM1077.75 637.36L1093.90 609.39L1061.60 609.39zM1041.18 612.88L1057.33 584.91L1025.03 584.91zM1004.62 588.40L1020.77 560.43L988.47 560.43zM968.05 563.92L984.20 535.95L951.90 535.95zM931.49 539.44L947.64 511.46L915.34 511.46zM894.93 514.96L911.08 486.98L878.78 486.98zM858.37 490.48L874.52 462.50L842.22 462.50zM821.82 465.99L837.97 438.02L805.67 438.02zM785.28 441.51L801.43 413.54L769.13 413.54zM748.73 417.03L764.88 389.06L732.58 389.06zM712.20 392.55L728.35 364.58L696.05 364.58zM675.66 368.07L691.81 340.10L659.51 340.10zM639.13 343.59L655.28 315.62L622.98 315.62zM602.60 319.11L618.75 291.14L586.45 291.14zM566.07 294.63L582.22 266.65L549.92 266.65zM529.54 270.15L545.69 242.17L513.39 242.17zM493.01 245.67L509.16 217.69L476.86 217.69zM456.47 221.18L472.62 193.21L440.32 193.21zM419.94 196.70L436.09 168.73L403.79 168.73zM383.40 172.22L399.55 144.25L367.25 144.25zM346.85 147.74L363.00 119.77L330.70 119.77zM310.30 123.26L326.45 95.29L294.15 95.29zM273.75 98.78L289.90 70.81L257.60 70.81zM237.19 74.30L253.34 46.33L221.04 46.33zM219.60 61.45L235.75 33.48L203.45 33.48z" fill="#0000ff"/>
<polyline points="2238.6,1189.1 2236.1,1189.1 2233.5,1189.2 2230.9,1189.2 2228.3,1189.2 2225.7,1189.1 2223.1,1189.0 2220.6,1188.9 2218.0,1188.8 2215.4,1188.7 2212.8,1188.5 2210.3,1188.3 2207.7,1188.1 2205.1,1187.9 2202.6,1187.7 2200.0,1187.5 2197.4,1187.2 2194.9,1186.9 2192.3,1186.6 2189.7,1186.3 2187.2,1186.0 2184.6,1185.7 2182.0,1185.3 2179.4,1184.9 2176.8,1184.5 2174.3,1184.1 2171.7,1183.7 2169.1,1183.3 2166.5,1182.8 2163.9,1182.3 2161.3,1181.8 2158.7,1181.3 2156.0,1180.7 2153.4,1180.2 2150.8,1179.6 2148.2,1179.0 2145.5,1178.4 2142.9,1177.8 2140.2,1177.2 2137.6,1176.5 2134.9,1175.8 2132.2,1175.1 2129.6,1174.4 2126.9,1173.7 2124.2,1173.0 2121.5,1172.2 2118.8,1171.4 2116.1,1170.7 2113.3,1169.8 2110.6,1169.0 2107.9,1168.2 2105.1,1167.4 2102.4,1166.5 2099.6,1165.6 2096.8,1164.8 2094.1,1163.8 2091.3,1162.9 2088.5,1162.0 2085.6,1161.0 2082.8,1160.0 2080.0,1159.0 2077.2,1158.0 2063.4,1153.0 2050.3,1147.9 2037.8,1142.8 2025.7,1137.7 2014.1,1132.6 2002.8,1127.5 1991.8,1122.4 1981.1,1117.3 1970.5,1112.2 1960.1,1107.1 1949.9,1102.0 1939.8,1096.9 1929.9,1091.8 1920.2,1086.8 1910.6,1081.7 1901.1,1076.6 1891.7,1071.5 1882.4,1066.4 1873.1,1061.3 1863.9,1056.2 1854.8,1051.1 1845.8,1046.0 1836.8,1040.9 1827.8,1035.8 1818.8,1030.7 1809.8,1025.6 1801.0,1020.6 1792.2,1015.5 1783.5,1010.4 1774.8,1005.3 1766.1,1000.2 1757.5,995.1 1748.9,990.0 1740.3,984.9 1731.8,979.8 1723.3,974.7 1714.7,969.6 1706.3,964.5 1697.8,959.4 1689.3,954.4 1680.8,949.3 1672.3,944.2 1663.8,939.1 1655.4,934.0 1646.9,928.9 1638.5,923.8 1630.2,918.7 1621.8,913.6 1613.5,908.5 1605.1,903.4 1596.8,898.3 1588.5,893.2 1580.2,888.1 1571.9,883.1 1563.6,878.0 1555.3,872.9 1547.0,867.8 1538.8,862.7 1530.5,857.6 1522.2,852.5 1514.0,847.4 1505.7,842.3 1497.5,837.2 1489.2,832.1 1481.0,827.0 1472.8,821.9 1464.5,816.9 1456.3,811.8 1448.1,806.7 1439.8,801.6 1431.6,796.5 1423.4,791.4 1415.2,786.3 1407.0,781.2 1398.8,776.1 1390.5,771.0 1382.3,765.9 1374.1,760.8 1365.9,755.7 1357.7,750.7 1349.5,745.6 1341.3,740.5 1333.1,735.4 1324.9,730.3 1316.7,725.2 1308.5,720.1 1300.3,715.0 1292.1,709.9 1283.9,704.8 1275.7,699.7 1267.5,694.6 1259.3,689.5 1251.1,684.5 1242.9,679.4 1234.7,674.3 1226.5,669.2 1218.3,664.1 1210.1,659.0 1201.9,653.9 1193.7,648.8 1185.5,643.7 1177.3,638.6 1169.1,633.5 1160.9,628.4 1152.7,623.3 1144.5,618.2 1136.3,613.2 1128.1,608.1 1119.9,603.0 1111.7,597.9 1103.5,592.8 1095.4,587.7 1087.2,582.6 1079.0,577.5 1070.8,572.4 1062.6,567.3 1054.4,562.2 1046.2,557.1 1038.0,552.0 1029.8,547.0 1021.6,541.9 1013.4,536.8 1005.2,531.7 997.0,526.6 988.9,521.5 980.7,516.4 972.5,511.3 964.3,506.2 956.1,501.1 947.9,496.0 939.7,490.9 931.5,485.8 923.3,480.8 915.1,475.7 906.9,470.6 898.8,465.5 890.6,460.4 882.4,455.3 874.2,450.2 866.0,445.1 857.8,440.0 849.6,434.9 841.4,429.8 833.2,424.7 825.0,419.6 816.9,414.5 808.7,409.5 800.5,404.4 792.3,399.3 784.1,394.2 775.9,389.1 767.7,384.0 759.5,378.9 751.3,373.8 743.2,368.7 735.0,363.6 726.8,358.5 718.6,353.4 710.4,348.3 702.2,343.3 694.0,338.2 685.8,333.1 677.6,328.0 669.5,322.9 661.3,317.8 653.1,312.7 644.9,307.6 636.7,302.5 628.5,297.4 620.3,292.3 612.1,287.2 604.0,282.1 595.8,277.1 587.6,272.0 579.4,266.9 571.2,261.8 563.0,256.7 554.8,251.6 546.6,246.5 538.5,241.4 530.3,236.3 522.1,231.2 513.9,226.1 505.7,221.0 497.5,215.9 489.3,210.9 481.2,205.8 473.0,200.7 464.8,195.6 456.6,190.5 448.4,185.4 440.2,180.3 432.1,175.2 423.9,170.1 415.7,165.0 407.5,159.9 399.3,154.8 391.1,149.7 383.0,144.6 374.8,139.6 366.6,134.5 358.4,129.4 350.2,124.3 342.0,119.2 333.9,114.1 325.7,109.0 317.5,103.9 309.3,98.8 301.1,93.7 293.0,88.6 284.8,83.5 276.6,78.4 268.4,73.4 260.2,68.3 252.1,63.2 243.9,58.1 235.8,53.0 227.7,47.9 219.6,42.8" fill="none" stroke="#c07ae0" stroke-width="7.8" stroke-linejoin="round" stroke-linecap="butt"/>
<path d="M2238.70 1173.15L2255.35 1189.80L2238.70 1206.45L2222.05 1189.80zM2098.12 1148.52L2114.77 1165.17L2098.12 1181.82L2081.47 1165.17zM2032.76 1124.03L2049.41 1140.68L2032.76 1157.33L2016.11 1140.68zM1978.74 1099.55L1995.39 1116.20L1978.74 1132.85L1962.09 1116.20zM1929.66 1075.06L1946.31 1091.71L1929.66 1108.36L1913.01 1091.71zM1883.89 1050.58L1900.54 1067.23L1883.89 1083.88L1867.24 1067.23zM1840.01 1026.09L1856.66 1042.74L1840.01 1059.39L1823.36 1042.74zM1797.00 1001.61L1813.65 1018.26L1797.00 1034.91L1780.35 1018.26zM1755.28 977.12L1771.93 993.77L1755.28 1010.42L1738.63 993.77zM1714.18 952.64L1730.83 969.29L1714.18 985.94L1697.53 969.29zM1673.33 928.15L1689.98 944.80L1673.33 961.45L1656.68 944.80zM1632.80 903.67L1649.45 920.32L1632.80 936.97L1616.15 920.32zM1592.73 879.18L1609.38 895.83L1592.73 912.48L1576.08 895.83zM1552.84 854.70L1569.49 871.35L1552.84 888.00L1536.19 871.35zM1513.10 830.21L1529.75 846.86L1513.10 863.51L1496.45 846.86zM1473.46 805.73L1490.11 822.38L1473.46 839.03L1456.81 822.38zM1433.89 781.24L1450.54 797.89L1433.89 814.54L1417.24 797.89zM1394.38 756.76L1411.03 773.41L1394.38 790.06L1377.73 773.41zM1354.91 732.27L1371.56 748.92L1354.91 765.57L1338.26 748.92zM1315.46 707.79L1332.11 724.44L1315.46 741.09L1298.81 724.44zM1276.03 683.30L1292.68 699.95L1276.03 716.60L1259.38 699.95zM1236.61 658.82L1253.26 675.47L1236.61 692.12L1219.96 675.47zM1197.19 634.33L1213.84 650.98L1197.19 667.63L1180.54 650.98zM1157.79 609.85L1174.44 626.50L1157.79 643.15L1141.14 626.50zM1118.39 585.36L1135.04 602.01L1118.39 618.66L1101.74 602.01zM1078.99 560.88L1095.64 577.53L1078.99 594.18L1062.34 577.53zM1039.60 536.39L1056.25 553.04L1039.60 569.69L1022.95 553.04zM1000.22 511.91L1016.87 528.56L1000.22 545.21L983.57 528.56zM960.84 487.42L977.49 504.07L960.84 520.72L944.19 504.07zM921.45 462.94L938.10 479.59L921.45 496.24L904.80 479.59zM882.07 438.45L898.72 455.10L882.07 471.75L865.42 455.10zM842.69 413.97L859.34 430.62L842.69 447.27L826.04 430.62zM803.32 389.48L819.97 406.13L803.32 422.78L786.67 406.13zM763.94 365.00L780.59 381.65L763.94 398.30L747.29 381.65zM724.57 340.51L741.22 357.16L724.57 373.81L707.92 357.16zM685.20 316.03L701.85 332.68L685.20 349.33L668.55 332.68zM645.83 291.54L662.48 308.19L645.83 324.84L629.18 308.19zM606.46 267.06L623.11 283.71L606.46 300.36L589.81 283.71zM567.10 242.57L583.75 259.22L567.10 275.87L550.45 259.22zM527.74 218.09L544.39 234.74L527.74 251.39L511.09 234.74zM488.38 193.60L505.03 210.25L488.38 226.90L471.73 210.25zM449.03 169.12L465.68 185.77L449.03 202.42L432.38 185.77zM409.68 144.63L426.33 161.28L409.68 177.93L393.03 161.28zM370.33 120.15L386.98 136.80L370.33 153.45L353.68 136.80zM330.99 95.66L347.64 112.31L330.99 128.96L314.34 112.31zM291.66 71.18L308.31 87.83L291.66 104.48L275.01 87.83zM252.33 46.69L268.98 63.34L252.33 79.99L235.68 63.34zM219.60 26.15L236.25 42.80L219.60 59.45L202.95 42.80z" fill="#00ffff"/>
</g>
<line x1="1432.70" y1="163.90" x2="1621.50" y2="163.90" stroke="#767676" stroke-width="7.8" stroke-linecap="round"/>
<path d="M1514.95 151.75h24.30v24.30h-24.30z" fill="#000000"/>
<line x1="1432.70" y1="289.90" x2="1621.50" y2="289.90" stroke="#fb3e3e" stroke-width="7.8" stroke-linecap="round"/>
<path d="M1513.95 289.90a13.15 13.15 0 1 0 26.30 0a13.15 13.15 0 1 0 -26.30 0z" fill="#ff0000"/>
<line x1="1432.70" y1="415.90" x2="1621.50" y2="415.90" stroke="#0070e0" stroke-width="7.8" stroke-linecap="round"/>
<path d="M1527.10 397.25L1543.25 425.22L1510.95 425.22z" fill="#00ff00"/>
<line x1="1432.70" y1="541.90" x2="1621.50" y2="541.90" stroke="#00ae6c" stroke-width="7.8" stroke-linecap="round"/>
<path d="M1527.10 560.55L1543.25 532.58L1510.95 532.58z" fill="#0000ff"/>
<line x1="1432.70" y1="668.30" x2="1621.50" y2="668.30" stroke="#c07ae0" stroke-width="7.8" stroke-linecap="round"/>
<path d="M1527.10 651.65L1543.75 668.30L1527.10 684.95L1510.45 668.30z" fill="#00ffff"/>
<text x="1642.90" y="192.50" font-size="84.40"><tspan font-style="italic">c</tspan>/<tspan font-weight="bold">(</tspan><tspan font-style="italic">h</tspan><tspan font-size="55.70" dy="23.00">1</tspan><tspan font-weight="bold" dy="-23.00">-</tspan><tspan font-style="italic">h</tspan><tspan font-size="55.70" dy="23.00">2</tspan><tspan font-weight="bold" dy="-23.00">)</tspan>=1.5</text>
<text x="1642.90" y="318.60" font-size="84.40"><tspan font-style="italic">c</tspan>/<tspan font-weight="bold">(</tspan><tspan font-style="italic">h</tspan><tspan font-size="55.70" dy="23.00">1</tspan><tspan font-weight="bold" dy="-23.00">-</tspan><tspan font-style="italic">h</tspan><tspan font-size="55.70" dy="23.00">2</tspan><tspan font-weight="bold" dy="-23.00">)</tspan>=1.25</text>
<text x="1642.90" y="444.80" font-size="84.40"><tspan font-style="italic">c</tspan>/<tspan font-weight="bold">(</tspan><tspan font-style="italic">h</tspan><tspan font-size="55.70" dy="23.00">1</tspan><tspan font-weight="bold" dy="-23.00">-</tspan><tspan font-style="italic">h</tspan><tspan font-size="55.70" dy="23.00">2</tspan><tspan font-weight="bold" dy="-23.00">)</tspan>=1</text>
<text x="1642.90" y="571.00" font-size="84.40"><tspan font-style="italic">c</tspan>/<tspan font-weight="bold">(</tspan><tspan font-style="italic">h</tspan><tspan font-size="55.70" dy="23.00">1</tspan><tspan font-weight="bold" dy="-23.00">-</tspan><tspan font-style="italic">h</tspan><tspan font-size="55.70" dy="23.00">2</tspan><tspan font-weight="bold" dy="-23.00">)</tspan>=0.75</text>
<text x="1642.90" y="697.30" font-size="84.40"><tspan font-style="italic">c</tspan>/<tspan font-weight="bold">(</tspan><tspan font-style="italic">h</tspan><tspan font-size="55.70" dy="23.00">1</tspan><tspan font-weight="bold" dy="-23.00">-</tspan><tspan font-style="italic">h</tspan><tspan font-size="55.70" dy="23.00">2</tspan><tspan font-weight="bold" dy="-23.00">)</tspan>=0.5</text>
<text x="337.90" y="1006.80" font-size="84.40"><tspan font-style="italic">a</tspan>=4 m</text>
<text x="337.90" y="1112.30" font-size="84.40"><tspan font-style="italic">b</tspan>=100 m</text>
<text x="337.90" y="1215.50" font-size="84.40"><tspan font-style="italic">h</tspan><tspan font-size="55.70" dy="23.00">1</tspan><tspan dy="-23.00">=16 m</tspan></text>
<text x="337.90" y="1339.70" font-size="84.40"><tspan font-style="italic">h</tspan><tspan font-size="55.70" dy="23.00">2</tspan><tspan dy="-23.00">=8 m</tspan></text>
<text x="337.90" y="1463.90" font-size="84.40"><tspan font-style="italic">α</tspan>=0.5</text>
<text transform="translate(220.00,1763.40) scale(1,1.03)" font-size="69.50" text-anchor="middle">-1.00</text>
<text transform="translate(724.77,1763.40) scale(1,1.03)" font-size="69.50" text-anchor="middle">-0.75</text>
<text transform="translate(1229.55,1763.40) scale(1,1.03)" font-size="69.50" text-anchor="middle">-0.50</text>
<text transform="translate(1734.32,1763.40) scale(1,1.03)" font-size="69.50" text-anchor="middle">-0.25</text>
<text transform="translate(2239.10,1763.40) scale(1,1.03)" font-size="69.50" text-anchor="middle">0.00</text>
<text transform="translate(185.30,64.10) scale(1,1.03)" font-size="69.50" text-anchor="end">1.0</text>
<text transform="translate(185.30,472.10) scale(1,1.03)" font-size="69.50" text-anchor="end">0.9</text>
<text transform="translate(185.30,880.10) scale(1,1.03)" font-size="69.50" text-anchor="end">0.8</text>
<text transform="translate(185.30,1288.10) scale(1,1.03)" font-size="69.50" text-anchor="end">0.7</text>
<text transform="translate(185.30,1696.10) scale(1,1.03)" font-size="69.50" text-anchor="end">0.6</text>
<text x="1228.50" y="1844.60" font-size="84.40" text-anchor="middle"><tspan font-style="italic">x</tspan>/<tspan font-style="italic">b</tspan></text>
<text transform="translate(70,926.5) rotate(-90)" font-size="84.40"><tspan font-style="italic">z</tspan>/<tspan font-style="italic">h</tspan><tspan font-size="55.70" dy="23.00">1</tspan></text>
</svg></body></html>
